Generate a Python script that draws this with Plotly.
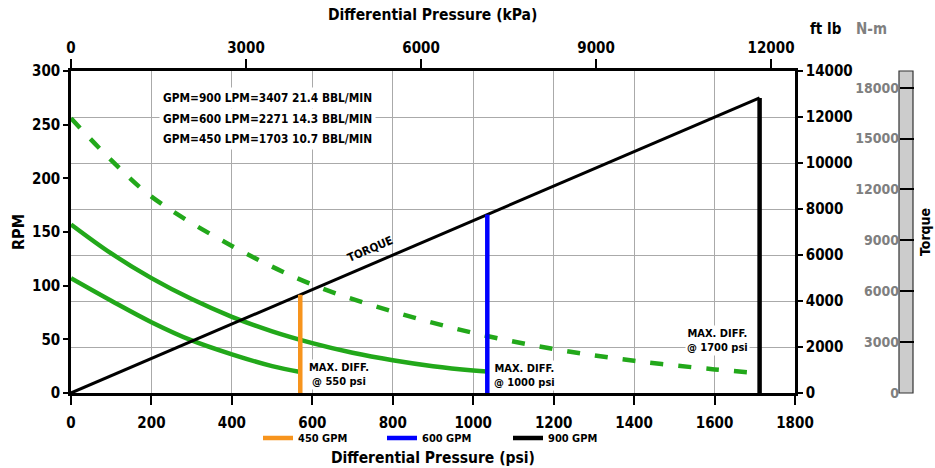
import numpy as np
import plotly.graph_objects as go

# ---- data -------------------------------------------------------------
# motor speed curves (RPM vs differential pressure, psi)
psi_900 = [0, 100, 200, 400, 600, 800, 1000, 1200, 1400, 1600, 1712]
rpm_900 = [256, 217, 183, 137, 101, 76, 56, 41, 30, 22, 18.5]

psi_600 = [0, 100, 200, 300, 400, 500, 600, 700, 800, 900, 1000, 1035]
rpm_600 = [157, 130, 107, 87.5, 71, 57.5, 46.5, 37.5, 30.5, 25, 21, 20]

psi_450 = [0, 100, 200, 300, 400, 500, 570]
rpm_450 = [107, 86, 66, 49, 36, 25, 19.5]

# torque line (ft lb vs psi)
torque_psi = [0, 1712]
torque_ftlb = [0, 12830]

# maximum differential pressure per flow rate
flow_names = ["450 GPM", "600 GPM", "900 GPM"]
max_diff_psi = [570, 1035, 1712]
max_diff_text = ["MAX. DIFF.<br>@ 550 psi", "MAX. DIFF.<br>@ 1000 psi", "MAX. DIFF.<br>@ 1700 psi"]
flow_colors = ["#f7941d", "#0000ff", "#000000"]

flow_table = [
    "GPM=900 LPM=3407 21.4 BBL/MIN",
    "GPM=600 LPM=2271 14.3 BBL/MIN",
    "GPM=450 LPM=1703 10.7 BBL/MIN",
]

psi_ticks = list(range(0, 1801, 200))
kpa_ticks = [0, 3000, 6000, 9000, 12000]
rpm_ticks = list(range(0, 301, 50))
ftlb_ticks = list(range(0, 14001, 2000))
nm_ticks = list(range(0, 18001, 3000))

PSI_TO_KPA = 6.89476
FTLB_TO_NM = 1.35582

# ---- layout helpers ---------------------------------------------------
W, H = 935, 468
ML, MR, MT, MB = 71, 22, 71, 75
PW = W - ML - MR
PH = H - MT - MB
XDOM = 724 / PW


def px(x):
    return (x - ML) / PW


def py(y):
    return (H - MB - y) / PH


FONT = "DejaVu Sans Condensed, DejaVu Sans, sans-serif"
GREEN = "#22a81a"
GRID = "#aaaaaa"

fig = go.Figure()

# speed curves
fig.add_trace(go.Scatter(x=psi_900, y=rpm_900, mode="lines", line=dict(color=GREEN, width=4.5, dash="13px,15px", shape="spline"),
                         showlegend=False, hoverinfo="skip"))
fig.add_trace(go.Scatter(x=psi_600, y=rpm_600, mode="lines", line=dict(color=GREEN, width=4.5, shape="spline"),
                         showlegend=False, hoverinfo="skip"))
fig.add_trace(go.Scatter(x=psi_450, y=rpm_450, mode="lines", line=dict(color=GREEN, width=4.5, shape="spline"),
                         showlegend=False, hoverinfo="skip"))

# torque line on the ft lb axis
fig.add_trace(go.Scatter(x=torque_psi, y=torque_ftlb, yaxis="y2", mode="lines", line=dict(color="black", width=3),
                         showlegend=False, hoverinfo="skip"))

# max differential markers
tops = np.interp(max_diff_psi, torque_psi, torque_ftlb)
legend_ids = ["legend", "legend2", "legend3"]
for p, t, name, col, lg in zip(max_diff_psi, tops, flow_names, flow_colors, legend_ids):
    fig.add_trace(go.Scatter(x=[p, p], y=[0, t], yaxis="y2", mode="lines", line=dict(color=col, width=4.5),
                             name=name, legend=lg, hoverinfo="skip"))

# empty traces to register the kPa and N-m axes
fig.add_trace(go.Scatter(x=[], y=[], xaxis="x2", yaxis="y", showlegend=False))
fig.add_trace(go.Scatter(x=[], y=[], xaxis="x", yaxis="y3", showlegend=False))

tickfont = dict(family=FONT, size=15, color="black", weight="bold")
axis_common = dict(showline=True, linecolor="black", linewidth=2.5, ticks="outside", tickcolor="black",
                   tickwidth=2, tickfont=tickfont, zeroline=False, tickformat="d")

psi_max = 1800
fig.update_layout(
    width=W, height=H,
    margin=dict(l=ML, r=MR, t=MT, b=MB, autoexpand=False),
    paper_bgcolor="white", plot_bgcolor="white",
    font=dict(family=FONT, color="black", weight="bold"),
    xaxis=dict(domain=[0, XDOM], range=[0, psi_max], tickvals=psi_ticks, ticklen=9, ticklabelstandoff=5,
               showgrid=True, gridcolor=GRID, gridwidth=1, anchor="y", **axis_common),
    xaxis2=dict(overlaying="x", side="top", anchor="y", range=[0, psi_max * PSI_TO_KPA], tickvals=kpa_ticks,
                ticklen=9, showgrid=False, **axis_common),
    yaxis=dict(domain=[0, 1], range=[0, 300], tickvals=rpm_ticks, ticklen=5, showgrid=False, anchor="x",
               **axis_common),
    yaxis2=dict(overlaying="y", side="right", anchor="x", range=[0, 14000], tickvals=ftlb_ticks, ticklen=5,
                showgrid=True, gridcolor=GRID, gridwidth=1, **axis_common),
    yaxis3=dict(overlaying="y", side="left", anchor="free", position=px(899), range=[0, 14000 * FTLB_TO_NM],
                tickvals=nm_ticks, ticks="inside", ticklen=14, tickwidth=1.5, tickcolor="black",
                showline=False, showgrid=False, zeroline=False, tickformat="d",
                tickfont=dict(family=FONT, size=14, color="#7f7f7f", weight="bold")),
    shapes=[dict(type="rect", xref="paper", yref="paper", x0=px(899), x1=px(913), y0=0, y1=1,
                 fillcolor="#cccccc", line=dict(color="#333333", width=1.2), layer="below")],
)

legend_x = [258, 382, 508]
for lg, lx in zip(legend_ids, legend_x):
    fig.update_layout({lg: dict(x=px(lx), xanchor="left", y=py(438), yanchor="middle", orientation="h",
                                bgcolor="rgba(0,0,0,0)", borderwidth=0,
                                font=dict(family=FONT, size=11, color="black", weight="bold"))})

ann = []
for line, ly in zip(flow_table, [98, 118.5, 139]):
    ann.append(dict(text=line, x=px(159), y=py(ly), xanchor="left", yanchor="middle",
                    align="left", bgcolor="white", borderpad=3, font=dict(size=11.8)))
ann.append(dict(text="TORQUE", x=px(370), y=py(249), textangle=-23, font=dict(size=11.5)))
label_pos = [(339, 374), (524, 375), (717, 340)]
for txt, (lx, ly) in zip(max_diff_text, label_pos):
    ann.append(dict(text=txt, x=px(lx), y=py(ly), align="center", bgcolor="white", borderpad=1,
                    font=dict(size=11)))
ann.append(dict(text="RPM", x=px(18), y=py(232), textangle=-90, font=dict(size=16)))
ann.append(dict(text="ft lb", x=px(826), y=py(29), font=dict(size=15)))
ann.append(dict(text="N-m", x=px(871), y=py(29), font=dict(size=15, color="#7f7f7f")))
ann.append(dict(text="Torque", x=px(925), y=py(232), textangle=-90, font=dict(size=14)))
ann.append(dict(text="Differential Pressure (psi)", x=px(433), y=py(458), font=dict(size=15.5)))
ann.append(dict(text="Differential Pressure (kPa)", x=px(432), y=py(15), font=dict(size=15.5)))
for a in ann:
    a.update(xref="paper", yref="paper", showarrow=False)
    a.setdefault("xanchor", "center")
    a.setdefault("yanchor", "middle")
    f = a.get("font", {})
    f.setdefault("family", FONT)
    f.setdefault("color", "black")
    f.setdefault("weight", "bold")
    a["font"] = f
fig.update_layout(annotations=ann)

fig.write_html("out.html")
